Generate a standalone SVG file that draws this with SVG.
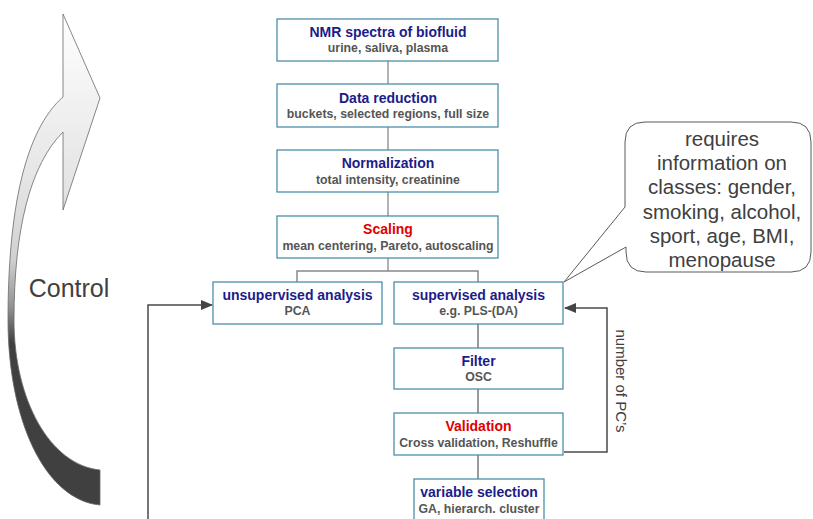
<svg xmlns="http://www.w3.org/2000/svg" width="813" height="519" viewBox="0 0 813 519">
<defs>
<linearGradient id="arrowGrad" gradientUnits="userSpaceOnUse" x1="0" y1="14" x2="0" y2="505">
<stop offset="0" stop-color="#ffffff"/>
<stop offset="0.35" stop-color="#e4e4e4"/>
<stop offset="0.5" stop-color="#d0d0d0"/>
<stop offset="0.6" stop-color="#909090"/>
<stop offset="0.67" stop-color="#404040"/>
<stop offset="1" stop-color="#404040"/>
</linearGradient>
<marker id="ah" markerWidth="12" markerHeight="10" refX="11" refY="5" orient="auto" markerUnits="userSpaceOnUse">
<path d="M0,0 L12,5 L0,10 Z" fill="#454545"/>
</marker>
<style>
.box{fill:#ffffff;stroke:#4d8fa9;stroke-width:1.3}
.t{font-family:"Liberation Sans",Arial,sans-serif;font-weight:bold;font-size:14px;fill:#1c1c8a;text-anchor:middle}
.tr{fill:#e00000}
.s{font-family:"Liberation Sans",Arial,sans-serif;font-weight:bold;font-size:12.3px;fill:#555555;text-anchor:middle}
.c{fill:none;stroke:#999999;stroke-width:1.5}
.fb{fill:none;stroke:#4a4a4a;stroke-width:1.5}
.call{font-family:"Liberation Sans",Arial,sans-serif;font-size:20.5px;fill:#404040;text-anchor:middle}
</style>
</defs>

<g id="control-arrow">
<path d="M63,97 L63,14 L100,98 L63,210 L63,132 C30,165 14,230 14,320 C14,400 50,465 100,470 L100,505 C45,500 8,420 8,320 C8,210 25,130 63,97 Z" fill="url(#arrowGrad)" stroke="#6a6a6a" stroke-width="0.8"/>
<text x="69" y="297" font-family="'Liberation Sans',Arial,sans-serif" font-size="25px" fill="#404040" text-anchor="middle">Control</text>
</g>

<g id="connectors">
<line class="c" x1="388" y1="61" x2="388" y2="84"/>
<line class="c" x1="388" y1="127" x2="388" y2="150"/>
<line class="c" x1="388" y1="192" x2="388" y2="216"/>
<line class="c" x1="388" y1="258" x2="388" y2="271"/>
<path class="c" style="stroke:#888888" d="M297,282 V271 H478 V282"/>
<line class="c" style="stroke:#777777" x1="478" y1="324" x2="478" y2="348"/>
<line class="c" style="stroke:#777777" x1="478" y1="389" x2="478" y2="413"/>
<line class="c" style="stroke:#777777" x1="478" y1="455" x2="478" y2="479"/>
<path class="fb" d="M148,519 V305 H212" marker-end="url(#ah)"/>
<path class="fb" d="M564,452 H607 V308 H565" marker-end="url(#ah)"/>
<text x="0" y="0" transform="translate(616,381) rotate(90)" font-family="'Liberation Sans',Arial,sans-serif" font-size="15px" fill="#404040" text-anchor="middle">number of PC’s</text>
</g>

<g id="nmr">
<rect class="box" x="277" y="19" width="221" height="42"/>
<text class="t" x="388" y="37">NMR spectra of biofluid</text>
<text class="s" x="388" y="52">urine, saliva, plasma</text>
</g>
<g id="data-reduction">
<rect class="box" x="277" y="84" width="221" height="43"/>
<text class="t" x="388" y="103">Data reduction</text>
<text class="s" x="388" y="118">buckets, selected regions, full size</text>
</g>
<g id="normalization">
<rect class="box" x="277" y="150" width="221" height="42"/>
<text class="t" x="388" y="168">Normalization</text>
<text class="s" x="388" y="184">total intensity, creatinine</text>
</g>
<g id="scaling">
<rect class="box" x="277" y="216" width="221" height="42"/>
<text class="t tr" x="388" y="234">Scaling</text>
<text class="s" x="388" y="250">mean centering, Pareto, autoscaling</text>
</g>
<g id="unsupervised">
<rect class="box" x="213" y="282" width="169" height="42"/>
<text class="t" x="297.5" y="300">unsupervised analysis</text>
<text class="s" x="297.5" y="315">PCA</text>
</g>
<g id="supervised">
<rect class="box" x="394" y="282" width="169" height="42"/>
<text class="t" x="478.5" y="300">supervised analysis</text>
<text class="s" x="478.5" y="315">e.g. PLS-(DA)</text>
</g>
<g id="filter">
<rect class="box" x="394" y="348" width="169" height="41"/>
<text class="t" x="478.5" y="366">Filter</text>
<text class="s" x="478.5" y="381">OSC</text>
</g>
<g id="validation">
<rect class="box" x="394" y="413" width="169" height="42"/>
<text class="t tr" x="478.5" y="431">Validation</text>
<text class="s" x="478.5" y="447">Cross validation, Reshuffle</text>
</g>
<g id="variable-selection">
<rect class="box" x="414" y="479" width="130" height="50"/>
<text class="t" x="479" y="497">variable selection</text>
<text class="s" x="479" y="513">GA, hierarch. cluster</text>
</g>

<g id="callout">
<path d="M645,122 H791 Q811,122 811,142 V252 Q811,272 791,272 H646 Q626,272 626,252 V247 L564,282 L625,207 V142 Q625,122 645,122 Z" fill="#ffffff" stroke="#5a5a5a" stroke-width="1"/>
<text class="call" x="722" y="146">requires</text>
<text class="call" x="722" y="170">information on</text>
<text class="call" x="722" y="194">classes: gender,</text>
<text class="call" x="722" y="219">smoking, alcohol,</text>
<text class="call" x="722" y="243">sport, age, BMI,</text>
<text class="call" x="722" y="267">menopause</text>
</g>
</svg>
